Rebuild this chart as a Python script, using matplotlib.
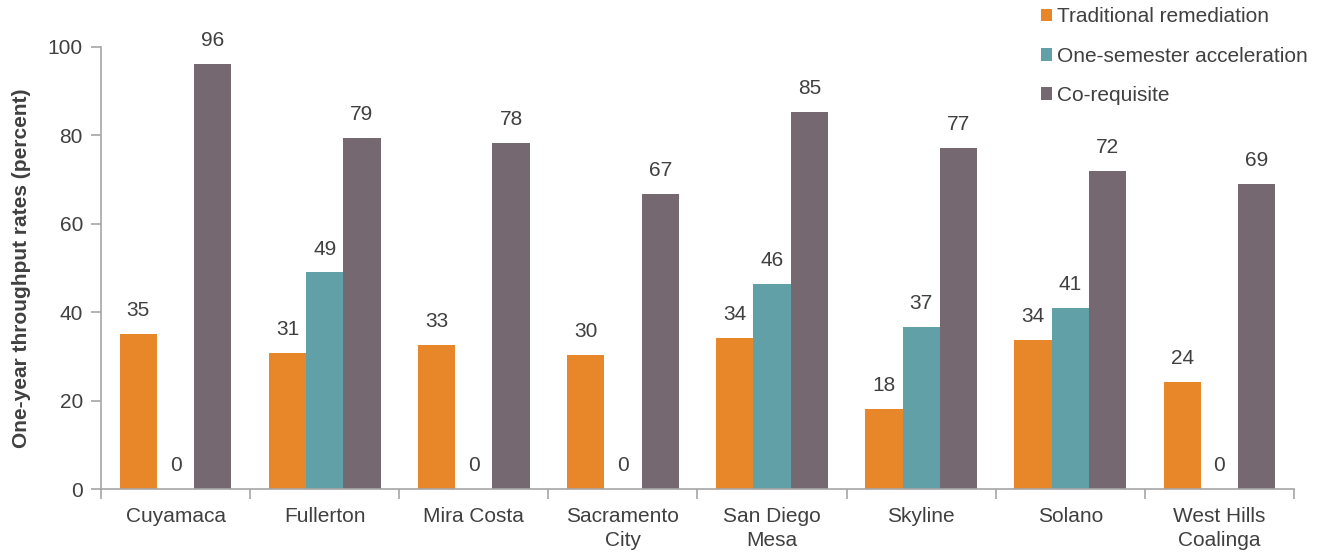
import matplotlib
matplotlib.use('Agg')
import matplotlib.pyplot as plt
import numpy as np

colleges = ['Cuyamaca', 'Fullerton', 'Mira Costa', 'Sacramento\nCity', 'San Diego\nMesa',
            'Skyline', 'Solano', 'West Hills\nCoalinga']
traditional = [35.1, 30.8, 32.6, 30.4, 34.2, 18.2, 33.7, 24.3]
one_semester = [0, 49.0, 0, 0, 46.3, 36.7, 41.0, 0]
corequisite = [96.2, 79.4, 78.3, 66.8, 85.4, 77.1, 72.0, 69.1]
series_names = ['Traditional remediation', 'One-semester acceleration', 'Co-requisite']
colors = ['#E8862A', '#62A0A8', '#766871']

plt.rcParams['font.family'] = ['Liberation Sans', 'DejaVu Sans']
text_color = '#404040'
axis_color = '#A6A6A6'
fs = 15

fig = plt.figure(figsize=(13.25, 5.52), dpi=100)
ax = fig.add_axes([0.0762, 0.1141, 0.9004, 0.8008])

x = np.arange(len(colleges))
w = 0.25
for i, (vals, name, c) in enumerate(zip([traditional, one_semester, corequisite], series_names, colors)):
    bars = ax.bar(x + (i - 1) * w, vals, w, color=c, label=name)
    for b, v in zip(bars, vals):
        ax.annotate(f'{v:.0f}', (b.get_x() + b.get_width() / 2, v), xytext=(0, 10),
                    textcoords='offset points', ha='center', va='bottom',
                    fontsize=fs, color=text_color)

ax.set_xlim(-0.5, len(colleges) - 0.5)
ax.set_ylim(0, 100)
ax.set_yticks(range(0, 101, 20))
ax.set_xticks(x)
ax.set_xticklabels(colleges, fontsize=fs, color=text_color, linespacing=1.35)
ax.set_xticks(np.arange(-0.5, len(colleges), 1), minor=True)
ax.tick_params(axis='x', which='major', length=0, pad=13)
ax.tick_params(axis='x', which='minor', length=7, color=axis_color, width=1.2)
ax.tick_params(axis='y', length=7, color=axis_color, width=1.2, labelsize=fs,
               labelcolor=text_color, pad=6)
ax.set_ylabel('One-year throughput rates (percent)', fontsize=fs, fontweight='bold',
              color=text_color, labelpad=12)

for s in ['top', 'right']:
    ax.spines[s].set_visible(False)
for s in ['left', 'bottom']:
    ax.spines[s].set_color(axis_color)
    ax.spines[s].set_linewidth(1.2)

leg = ax.legend(loc='upper left', bbox_to_anchor=(0.779, 1.113), frameon=False,
                fontsize=fs, handlelength=0.55, handleheight=0.55, handletextpad=0.25,
                labelspacing=0.97, borderpad=0)
for t in leg.get_texts():
    t.set_color(text_color)

fig.savefig('out.png', dpi=100)
plt.close(fig)
